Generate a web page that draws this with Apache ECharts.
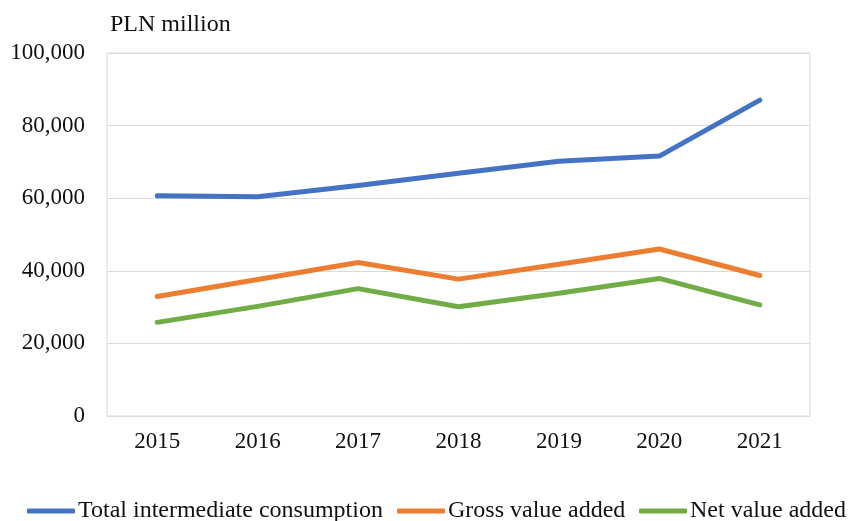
<!DOCTYPE html>
<html>
<head>
<meta charset="utf-8">
<script src="https://cdn.jsdelivr.net/npm/echarts@6/dist/echarts.min.js"></script>
<style>html,body{margin:0;padding:0;background:#fff}#c{width:849px;height:521px}</style>
</head>
<body>
<div id="c"></div>
<script>
const years = ['2015','2016','2017','2018','2019','2020','2021'];
const totalIntermediate = [60700, 60400, 63500, 66900, 70200, 71600, 87000];
const grossValueAdded = [32900, 37600, 42300, 37700, 41800, 46000, 38700];
const netValueAdded = [25800, 30200, 35100, 30100, 33800, 37900, 30600];
const seriesNames = ['Total intermediate consumption', 'Gross value added', 'Net value added'];
const colors = ['#4472C4', '#ED7D31', '#70AD47'];
const font = 'Liberation Serif';

const chart = echarts.init(document.getElementById('c'));
const mk = (name, data, color) => ({
  name, type: 'line', data, showSymbol: false, symbol: 'none',
  lineStyle: { width: 5, color, cap: 'round', join: 'round' },
  itemStyle: { color }
});
const legendLefts = [22, 392, 634];
const legends = seriesNames.map((n, i) => ({
  bottom: -7, left: legendLefts[i], padding: 5,
  itemWidth: 48, itemHeight: 5,
  icon: 'roundRect',
  textStyle: { fontSize: 24, fontFamily: font, color: '#111', padding: [0, 0, 0, -2] },
  data: [n]
}));
chart.setOption({
  animation: false,
  color: colors,
  textStyle: { fontFamily: font },
  title: {
    text: 'PLN million', left: 105, top: 8,
    textStyle: { fontFamily: font, fontSize: 24, fontWeight: 'normal', color: '#111' }
  },
  grid: { left: 107, right: 39, top: 53, bottom: 105, show: true, borderColor: '#d9d9d9', borderWidth: 1 },
  xAxis: {
    type: 'category', data: years, boundaryGap: true,
    axisLine: { show: true, lineStyle: { color: '#d9d9d9', width: 1 } },
    axisTick: { show: false },
    axisLabel: { color: '#111', fontSize: 23, fontFamily: font, margin: 14 }
  },
  yAxis: {
    type: 'value', min: 0, max: 100000, interval: 20000,
    axisLine: { show: false }, axisTick: { show: false },
    splitLine: { lineStyle: { color: '#d9d9d9', width: 1 } },
    axisLabel: {
      color: '#111', fontSize: 23, fontFamily: font, margin: 22,
      formatter: v => v.toLocaleString('en-US')
    }
  },
  legend: legends,
  series: [
    mk(seriesNames[0], totalIntermediate, colors[0]),
    mk(seriesNames[1], grossValueAdded, colors[1]),
    mk(seriesNames[2], netValueAdded, colors[2])
  ]
});
</script>
</body>
</html>
